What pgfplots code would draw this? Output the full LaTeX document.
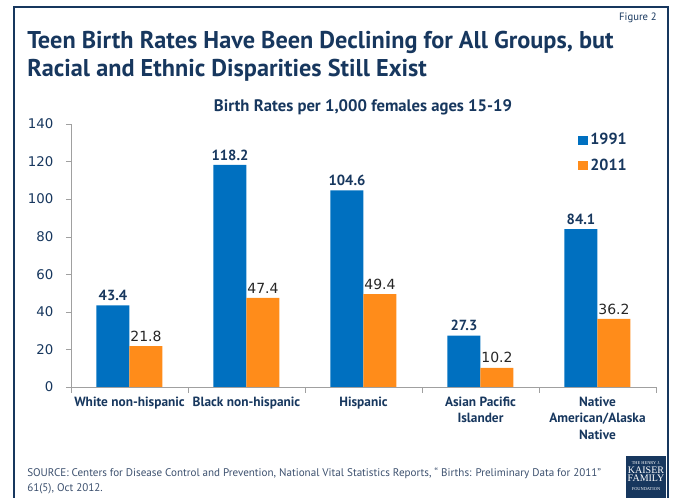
\documentclass[border=0pt]{standalone}
\usepackage{pgfplots}
\pgfplotsset{compat=1.18}
\usepackage{fontspec}
\setmainfont{PT Sans}
\newfontfamily\numfont{DejaVu Sans}
\newfontfamily\logofont{Liberation Serif}

\definecolor{kffnavy}{RGB}{23,55,94}
\definecolor{kffblue}{RGB}{0,112,192}
\definecolor{kfforange}{RGB}{255,140,26}
\definecolor{axisgray}{RGB}{160,160,160}
\definecolor{srcgray}{RGB}{60,80,110}

\begin{document}
\begin{tikzpicture}[x=0.75pt,y=0.75pt]
\useasboundingbox (0,0) rectangle (675,498);
% frame
\draw[kffnavy, line width=1.5pt] (14,-5) -- (14,491) -- (668,491) -- (668,-5);
% titles
\node[anchor=base east, font=\fontsize{8}{9}\selectfont, text=kffnavy, inner sep=0pt] at (657,477) {Figure 2};
\node[anchor=base west, font=\bfseries\fontsize{18.2}{22}\selectfont, text=kffnavy, inner sep=0pt] at (27,449) {Teen Birth Rates Have Been Declining for All Groups, but};
\node[anchor=base west, font=\bfseries\fontsize{18.2}{22}\selectfont, text=kffnavy, inner sep=0pt] at (27,421) {Racial and Ethnic Disparities Still Exist};
\node[font=\bfseries\fontsize{12.5}{15}\selectfont, text=kffnavy, inner sep=0pt] at (363,391) {Birth Rates per 1,000 females ages 15-19};

\begin{axis}[
    at={(53.25pt,83.25pt)}, anchor=south west,
    scale only axis, width=438.75pt, height=197.25pt,
    ybar=0pt, bar width=24.75pt,
    xmin=-0.5, xmax=4.5, ymin=0, ymax=140,
    xtick={0,1,2,3,4},
    xticklabels={White non-hispanic, Black non-hispanic, Hispanic, Asian Pacific\\Islander, Native\\American/Alaska\\Native},
    xticklabel style={align=center, font=\bfseries\fontsize{10}{12.5}\selectfont, text=kffnavy},
    ytick={0,20,...,140},
    yticklabel style={font=\numfont\fontsize{10}{12}\selectfont, text=kffnavy, xshift=-6pt},
    /pgf/number format/assume math mode=true,
    axis x line*=bottom, axis y line*=left,
    axis line style={axisgray, -},
    tick align=outside, major tick length=3.75pt,
    tick style={axisgray},
    xtick style={draw=none},
    extra x ticks={-0.5,0.5,1.5,2.5,3.5,4.5},
    extra x tick labels={},
    extra x tick style={xtick style={draw=axisgray}, major tick length=4.5pt},
    legend style={at={(0.86,0.985)}, anchor=north west, draw=none, fill=none,
        font=\bfseries\fontsize{12}{14}\selectfont, text=kffnavy, row sep=5pt},
    legend cell align=left,
    legend image code/.code={\fill[#1] (0pt,-3.5pt) rectangle (7pt,3.5pt);},
    nodes near coords,
]
\addplot[fill=kffblue, draw=none,
    every node near coord/.append style={font=\bfseries\fontsize{11}{13}\selectfont, text=kffnavy}]
    coordinates {(0,43.4) (1,118.2) (2,104.6) (3,27.3) (4,84.1)};
\addlegendentry{1991}
\addplot[fill=kfforange, draw=none,
    every node near coord/.append style={font=\numfont\fontsize{10.5}{12}\selectfont, text=black!85}]
    coordinates {(0,21.8) (1,47.4) (2,49.4) (3,10.2) (4,36.2)};
\addlegendentry{2011}
\end{axis}

% source
\node[anchor=base west, font=\fontsize{8.3}{10}\selectfont, text=srcgray, inner sep=0pt] at (27,21) {SOURCE: Centers for Disease Control and Prevention, National Vital Statistics Reports, `` Births: Preliminary Data for 2011''};
\node[anchor=base west, font=\fontsize{8.3}{10}\selectfont, text=srcgray, inner sep=0pt] at (27,6) {61(5), Oct 2012.};
% logo
\fill[kffnavy] (626,-2) rectangle (666,42);
\node[text=white, align=center, font=\logofont\fontsize{7.5}{6.5}\selectfont, inner sep=0pt] at (646,22) {{\fontsize{3.3}{3.5}\selectfont THE HENRY J.}\\KAISER\\FAMILY\\{\fontsize{3.3}{3.5}\selectfont FOUNDATION}};
\end{tikzpicture}
\end{document}
